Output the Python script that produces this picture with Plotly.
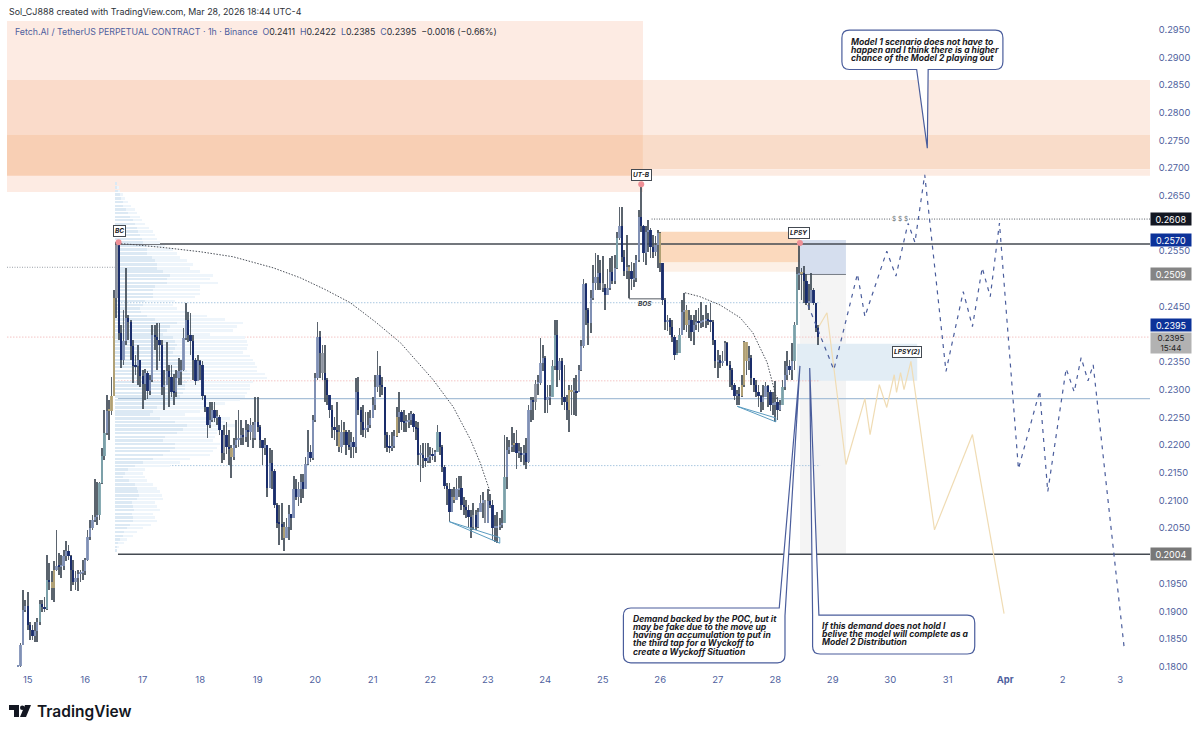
import numpy as np
import plotly.graph_objects as go

# Candles, 1h, prices x 10000. Open is the previous close.
first_open = 1800
closes = [1802,1840,1903,1910,1876,1867,1856,1865,1881,1914,1907,1905,1957,1953,1943,1975,1982,1981,1982,2000,
2009,1999,1975,1953,1961,1968,1970,1972,1993,2035,2051,2065,2071,2073,2132,2181,2222,2262,2262,2289,
2466,2562,2403,2354,2388,2430,2423,2379,2343,2342,2354,2325,2311,2331,2298,2318,2399,2396,2390,2381,
2305,2309,2333,2323,2296,2295,2322,2333,2336,2394,2426,2399,2388,2354,2315,2351,2345,2289,2268,2237,
2246,2264,2249,2251,2228,2186,2219,2197,2194,2179,2201,2210,2213,2219,2215,2228,2224,2237,2213,2242,
2233,2210,2195,2201,2123,2168,2154,2092,2060,2058,2053,2033,2053,2076,2069,2120,2107,2120,2134,2121,
2166,2188,2177,2246,2322,2396,2367,2331,2318,2291,2264,2233,2228,2224,2197,2224,2224,2201,2197,2206,
2197,2295,2264,2242,2228,2231,2237,2249,2273,2304,2327,2309,2305,2219,2197,2195,2199,2217,2251,2260,
2242,2240,2242,2246,2257,2233,2230,2183,2183,2177,2172,2179,2183,2181,2188,2224,2197,2161,2127,2120,
2080,2107,2101,2120,2123,2092,2089,2083,2071,2053,2074,2053,2080,2096,2101,2060,2100,2092,2051,2051,
2053,2056,2060,2143,2192,2197,2201,2204,2186,2186,2183,2186,2170,2264,2282,2277,2311,2313,2349,2358,
2282,2286,2287,2342,2399,2336,2351,2287,2277,2264,2300,2296,2296,2295,2336,2378,2490,2444,2421,2466,
2493,2504,2511,2493,2484,2471,2484,2513,2497,2520,2574,2596,2540,2515,2522,2515,2499,2502,2535,2612,
2596,2547,2585,2589,2558,2549,2562,2583,2529,2462,2423,2425,2414,2396,2363,2367,2399,2441,2444,2417,
2425,2405,2417,2423,2421,2423,2425,2426,2425,2423,2390,2351,2354,2349,2352,2385,2345,2336,2309,2289,
2293,2289,2309,2387,2351,2358,2322,2309,2296,2289,2277,2287,2307,2296,2273,2273,2278,2264,2273,2304,
2327,2342,2336,2351,2417,2508,2509,2511,2497,2457,2457,2480,2457,2412,2395]
highs = [1804,1843,1939,1921,1934,1881,1876,1881,1888,1921,1921,1925,2002,1988,1972,1990,2047,2006,2002,2011,
2027,2020,2002,1993,1972,1975,1975,1993,1997,2047,2065,2074,2138,2134,2134,2195,2264,2291,2282,2323,
2480,2567,2562,2417,2444,2520,2435,2426,2390,2363,2381,2340,2336,2338,2334,2327,2417,2417,2421,2421,
2390,2336,2387,2345,2345,2329,2336,2358,2354,2412,2457,2441,2439,2399,2358,2363,2354,2351,2291,2264,
2278,2277,2278,2264,2255,2228,2237,2242,2228,2201,2213,2246,2264,2246,2231,2246,2239,2249,2242,2286,
2286,2237,2206,2213,2201,2195,2192,2156,2096,2092,2096,2062,2069,2092,2074,2145,2138,2134,2147,2147,
2179,2228,2201,2255,2331,2423,2406,2381,2381,2322,2291,2273,2251,2277,2237,2246,2242,2228,2228,2224,
2215,2322,2323,2268,2273,2260,2260,2264,2286,2327,2369,2342,2323,2304,2224,2219,2224,2228,2268,2295,
2264,2264,2255,2258,2262,2258,2244,2242,2201,2204,2204,2204,2197,2195,2192,2237,2224,2201,2165,2132,
2132,2120,2125,2141,2145,2145,2107,2101,2092,2083,2096,2083,2087,2110,2116,2101,2120,2112,2101,2074,
2080,2069,2083,2219,2215,2210,2233,2221,2228,2204,2197,2201,2213,2273,2287,2286,2318,2327,2394,2381,
2360,2309,2309,2354,2426,2426,2358,2358,2345,2291,2309,2309,2322,2327,2345,2390,2499,2493,2448,2480,
2526,2547,2544,2535,2542,2490,2517,2538,2542,2544,2585,2629,2629,2553,2580,2526,2531,2529,2544,2625,
2670,2598,2596,2607,2592,2580,2578,2589,2585,2522,2466,2435,2430,2426,2399,2390,2412,2462,2475,2453,
2443,2435,2434,2444,2448,2459,2435,2453,2439,2457,2425,2390,2372,2363,2369,2388,2387,2351,2340,2313,
2300,2304,2327,2388,2381,2378,2363,2322,2318,2309,2291,2309,2314,2309,2300,2295,2316,2286,2282,2318,
2351,2369,2354,2385,2423,2522,2565,2520,2524,2508,2490,2511,2484,2457,2416]
lows = [1800,1800,1840,1899,1867,1849,1849,1845,1845,1876,1899,1899,1903,1939,1921,1917,1972,1966,1961,1975,
1990,1993,1937,1948,1939,1937,1953,1957,1966,1990,2029,2047,2062,2055,2065,2129,2174,2219,2210,2255,
2289,2430,2390,2340,2345,2381,2390,2354,2313,2327,2309,2304,2266,2282,2284,2291,2314,2372,2336,2351,
2291,2264,2318,2268,2286,2273,2286,2309,2309,2333,2390,2387,2363,2318,2309,2333,2318,2282,2260,2213,
2231,2242,2242,2237,2219,2168,2174,2184,2165,2141,2174,2195,2197,2201,2201,2206,2197,2210,2195,2210,
2224,2195,2165,2183,2107,2129,2120,2087,2051,2020,2029,2008,2033,2029,2047,2074,2101,2091,2096,2105,
2120,2165,2170,2174,2242,2318,2322,2318,2278,2273,2249,2213,2210,2199,2188,2186,2201,2183,2192,2177,
2177,2186,2255,2219,2215,2213,2224,2231,2251,2264,2296,2287,2291,2195,2188,2186,2190,2195,2215,2222,
2228,2224,2224,2231,2237,2224,2210,2165,2134,2159,2161,2168,2168,2174,2170,2188,2183,2152,2120,2092,
2062,2080,2096,2101,2107,2083,2074,2069,2053,2033,2047,2046,2051,2080,2069,2060,2060,2087,2029,2026,
2024,2047,2051,2060,2120,2184,2188,2188,2156,2177,2170,2165,2156,2168,2242,2246,2264,2291,2309,2333,
2258,2258,2273,2286,2336,2304,2318,2273,2264,2246,2224,2255,2255,2253,2295,2334,2376,2417,2381,2403,
2462,2480,2480,2480,2477,2443,2471,2480,2490,2490,2517,2571,2531,2506,2499,2466,2480,2486,2495,2531,
2585,2531,2526,2549,2538,2538,2542,2520,2513,2453,2408,2406,2399,2387,2354,2363,2369,2405,2408,2405,
2394,2388,2381,2408,2405,2412,2414,2412,2417,2405,2381,2340,2322,2340,2343,2351,2342,2304,2300,2282,
2273,2273,2286,2305,2327,2336,2309,2296,2286,2268,2260,2264,2286,2268,2262,2255,2242,2246,2262,2273,
2300,2318,2327,2318,2336,2417,2480,2462,2457,2453,2444,2459,2453,2405,2381]

# Candles that are not the usual blue grey / navy
tan_candles = [14, 15, 38, 39, 40, 89, 111, 134, 136, 158, 182, 207, 230, 231, 255, 268, 279, 302, 303, 304, 327]
teal_candles = [9, 12, 34, 35, 36, 175, 203, 223, 224, 250, 275, 276, 319, 324, 325]
grey_candles = [41, 86, 98, 127, 190, 195, 216, 244, 295]

# Volume profile, prices x 10000, two layers
vp_price = [2672,2665,2659,2652,2645,2639,2632,2625,2619,2612,2606,2599,2592,2586,2579,2572,2566,2559,2553,2546,
2539,2533,2526,2519,2513,2506,2500,2493,2486,2480,2473,2467,2460,2453,2447,2440,2433,2427,2420,2414,
2407,2400,2394,2387,2381,2374,2367,2361,2354,2347,2341,2334,2328,2321,2314,2308,2301,2294,2288,2281,
2275,2268,2261,2255,2248,2242,2235,2228,2222,2215,2208,2202,2195,2189,2182,2175,2169,2162,2156,2149,
2142,2136,2129,2122,2116,2109,2103,2096,2089,2083,2076,2069,2063,2056,2050,2043,2036,2030,2023,2016,2010]
vp_inner = [1,2,3,5,6,8,8,11,13,15,18,20,22,23,25,27,28,30,32,32,37,40,42,42,48,55,52,52,40,38,38,38,30,28,25,26,
32,40,62,55,52,48,58,60,62,60,58,65,68,70,70,72,75,75,72,70,70,68,65,60,55,42,38,35,45,60,72,68,62,50,48,60,60,
55,48,38,28,20,13,10,8,14,20,22,23,24,22,17,18,19,17,18,18,15,12,9,8,5,3,2,1]
vp_outer = [2,4,5,8,10,13,16,20,22,25,27,30,34,38,40,42,45,50,58,62,65,72,78,75,85,98,95,103,85,85,85,80,60,58,62,75,
92,110,128,122,118,95,130,132,133,132,128,135,138,140,142,142,150,152,138,135,135,132,130,125,110,100,85,70,115,
110,120,110,102,100,98,105,102,98,95,75,65,55,30,28,30,32,38,42,45,47,48,40,42,45,38,40,42,36,28,22,18,12,9,4,2]

# Projected paths: day of month (Apr 1 = 32), price x 10000
model1_day = [28.57,29.02,29.43,29.56,29.94,30.10,30.31,30.43,30.60,30.97,31.27,31.43,31.60,31.74,31.90,32.23,32.60,32.74,33.06,33.20,33.32,33.44,33.53,34.07]
model1_price = [2453,2336,2509,2432,2550,2505,2601,2566,2688,2333,2477,2414,2520,2468,2601,2157,2298,2116,2338,2296,2358,2316,2345,1833]
model2_day = [28.76,28.90,29.23,29.56,29.65,29.81,29.94,30.07,30.11,30.18,30.24,30.36,30.77,31.43,31.98]
model2_price = [2414,2439,2165,2284,2219,2309,2268,2327,2295,2331,2300,2351,2047,2219,1896]

# Dotted arcs
arc1_day = [16.57,16.83,17.42,18.00,18.57,19.27,19.74,20.17,20.61,21.04,21.48,22.05,22.40,22.70,22.87,23.04]
arc1_price = [2564,2562,2556,2549,2540,2520,2502,2481,2457,2423,2385,2318,2269,2210,2168,2116]
arc2_day = [26.43,26.69,27.04,27.39,27.61,27.86,28.03]
arc2_price = [2475,2468,2453,2430,2403,2349,2282]

# Thin wedges under the lows
wedge1_day = [22.33,23.21,23.21,22.33]
wedge1_price = [2062,2023,2033,2062]
wedge2_day = [27.34,28.01,28.01,27.34]
wedge2_price = [2270,2242,2249,2270]

pivot_day = [16.58,25.67,28.43]
pivot_price = [2566,2671,2565]

day_ticks = list(range(15, 35))
day_labels = ['15','16','17','18','19','20','21','22','23','24','25','26','27','28','29','30','31','<b>Apr</b>','2','3']
price_ticks = [0.18,0.185,0.19,0.195,0.205,0.21,0.215,0.22,0.225,0.23,0.235,0.245,0.255,0.265,0.27,0.275,0.28,0.285,0.29,0.295]

X_MIN, X_MAX = 14.64, 34.518
Y_MIN, Y_MAX = 0.17977, 0.29655
AXIS_BLUE = '#4f5f9e'
FONT = 'Inter'

close = np.array(closes) / 1e4
opens = np.concatenate([[first_open / 1e4], close[:-1]])
high = np.maximum(np.array(highs) / 1e4, np.maximum(opens, close))
low = np.minimum(np.array(lows) / 1e4, np.minimum(opens, close))
days = 14 + 20 / 24 + np.arange(len(close)) / 24

colors = ['#8494ba' if c >= o else '#15296b' for o, c in zip(opens, close)]
for i in tan_candles:
    colors[i] = '#b8a676'
for i in teal_candles:
    colors[i] = '#7fa6ae'
for i in grey_candles:
    colors[i] = '#9298a4'

fig = go.Figure()

# Volume profile
vp_y = np.array(vp_price) / 1e4
fig.add_trace(go.Bar(y=vp_y, x=np.array(vp_outer) / 57.5, base=16.52, orientation='h', width=0.00045,
                     marker=dict(color='#eef5fb', line_width=0), hoverinfo='skip'))
fig.add_trace(go.Bar(y=vp_y, x=np.array(vp_inner) / 57.5, base=16.52, orientation='h', width=0.00045,
                     marker=dict(color='#dce9f4', line_width=0), hoverinfo='skip'))

# Candles
fig.add_trace(go.Bar(x=days, y=high - low, base=low, width=0.013,
                     marker=dict(color='#3f4a55', line_width=0), opacity=0.85, name='wick'))
fig.add_trace(go.Bar(x=days, y=np.maximum(np.abs(close - opens), 0.0002), base=np.minimum(opens, close), width=0.04,
                     marker=dict(color=colors, line_width=0), opacity=0.92, name='body'))


def add_path(xs, ys, color, width=1, dash='solid'):
    fig.add_trace(go.Scatter(x=xs, y=np.array(ys) / 1e4, mode='lines', hoverinfo='skip',
                             line=dict(color=color, width=width, dash=dash)))


add_path(arc1_day, arc1_price, '#4a4f58', 1, '1.5px,1.5px')
add_path(arc2_day, arc2_price, '#4a4f58', 1, '1.5px,1.5px')
add_path(wedge1_day, wedge1_price, '#5b9cc0', 1)
add_path(wedge2_day, wedge2_price, '#5b9cc0', 1)
add_path(model2_day, model2_price, '#f0dcb4', 1.2)
add_path(model1_day, model1_price, '#4a5d9c', 1.2, '4px,5px')
add_path([25.46, 25.46, 26.03], [2504, 2464, 2464], '#555b63', 1)

fig.add_trace(go.Scatter(x=pivot_day, y=np.array(pivot_price) / 1e4, mode='markers', hoverinfo='skip',
                         marker=dict(color='#ef8f96', size=6)))

# Zones: left edge, right edge, price from, price to, colour
zones = [
    (X_MIN, 25.70, 0.2657, Y_MAX, '#fdebe3'),
    (X_MIN, 25.70, 0.2760, 0.2859, '#fadbca'),
    (X_MIN, 25.70, 0.2686, 0.2760, '#f8cfb4'),
    (25.70, X_MAX, 0.2760, 0.2859, '#fcebe2'),
    (25.70, X_MAX, 0.2698, 0.2760, '#f9dcc9'),
    (25.70, X_MAX, 0.2686, 0.2698, '#fcebe2'),
    (25.98, 28.43, 0.2513, 0.2530, '#fdf0e6'),
    (25.98, 28.43, 0.2530, 0.2585, '#fbd9bd'),
    (28.43, 29.23, 0.2004, 0.2508, '#f4f4f4'),
    (28.43, 29.23, 0.2508, 0.2570, '#d5deee'),
    (28.38, 30.47, 0.2316, 0.2383, '#e2edf5'),
]
for x0, x1, y0, y1, color in zones:
    fig.add_shape(type='rect', x0=x0, x1=x1, y0=y0, y1=y1, fillcolor=color, line_width=0, layer='below')

# Horizontal levels: left edge, right edge, price, colour, width, dash
levels = [
    (16.57, X_MAX, 0.2563, '#444a52', 1.3, 'solid'),
    (16.57, X_MAX, 0.2003, '#444a52', 1.3, 'solid'),
    (25.85, X_MAX, 0.2608, '#555b63', 1, '1px,1.5px'),
    (X_MIN, 16.52, 0.2521, '#9aa0a8', 1, '1px,1.5px'),
    (28.43, 29.23, 0.2508, '#777d86', 1, 'solid'),
    (16.57, 28.78, 0.2457, '#a9c7e0', 1, '1.5px,1.5px'),
    (X_MIN, X_MAX, 0.2395, '#f3c4c4', 1, '1.5px,1.5px'),
    (16.57, 28.78, 0.2316, '#f3c4c4', 1, '1.5px,1.5px'),
    (16.57, X_MAX, 0.2284, '#a8c0d8', 1.2, 'solid'),
    (16.57, 28.78, 0.2163, '#a9c7e0', 1, '1.5px,1.5px'),
]
for x0, x1, y, color, width, dash in levels:
    fig.add_shape(type='line', x0=x0, x1=x1, y0=y, y1=y, line=dict(color=color, width=width, dash=dash), layer='below')


# Speech bubble with rounded corners, pointer leaves from the given side
def bubble(x0, x1, y0, y1, side, base0, base1, tip_x, tip_y):
    rx, ry = 0.13, 0.0014
    path = f'M {x0 + rx} {y1} '
    if side == 'top':
        path += f'L {base0} {y1} L {tip_x} {tip_y} L {x1} {y1 - ry} '
    else:
        path += f'L {x1 - rx} {y1} Q {x1} {y1} {x1} {y1 - ry} '
    path += f'L {x1} {y0 + ry} Q {x1} {y0} {x1 - rx} {y0} '
    if side == 'bottom':
        path += f'L {base1} {y0} L {tip_x} {tip_y} L {base0} {y0} '
    path += f'L {x0 + rx} {y0} Q {x0} {y0} {x0} {y0 + ry} '
    if side == 'left':
        path += f'L {x0} {y1} L {tip_x} {tip_y} L {base1} {y1} Z'
    else:
        path += f'L {x0} {y1 - ry} Q {x0} {y1} {x0 + rx} {y1} Z'
    fig.add_shape(type='path', path=path, fillcolor='white', line=dict(color='#4a5d9c', width=1.2), layer='above')


bubble(29.16, 31.96, 0.2878, 0.2949, 'bottom', 30.46, 30.66, 30.645, 0.2736)
bubble(25.36, 28.17, 0.1807, 0.1906, 'top', 28.07, 28.17, 28.43, 0.2343)
bubble(28.65, 31.47, 0.1823, 0.1893, 'left', 28.65, 28.76, 28.60, 0.2339)

# Text inside bubbles: left edge, price, line
bubble_lines = [
    (29.28, 0.2928, 'Model 1 scenario does not have to'),
    (29.28, 0.2913, 'happen and I think there is a higher'),
    (29.28, 0.2899, 'chance of the Model 2 playing out'),
    (25.49, 0.1886, 'Demand backed by the POC, but it'),
    (25.49, 0.1872, 'may be fake due to the move up'),
    (25.49, 0.1857, 'having an accumulation to put in'),
    (25.49, 0.1843, 'the third tap for a Wyckoff to'),
    (25.49, 0.1827, 'create a Wyckoff Situation'),
    (28.78, 0.1873, 'If this demand does not hold I'),
    (28.78, 0.1859, 'belive the model will complete as a'),
    (28.78, 0.1844, 'Model 2 Distribution'),
]
for x, y, line in bubble_lines:
    fig.add_annotation(x=x, y=y, text=f'<b><i>{line}</i></b>', showarrow=False, xanchor='left', yanchor='middle',
                       font=dict(family=FONT, size=8.6, color='#1a1a24'))

# Boxed tags on the chart
tags = [(25.67, 0.2688, 'UT-B'), (16.59, 0.2587, 'BC'), (28.42, 0.2583, 'LPSY'), (30.29, 0.2368, 'LPSY(2)')]
for x, y, label in tags:
    fig.add_annotation(x=x, y=y, text=f'<b><i>{label}</i></b>', showarrow=False, bgcolor='white',
                       bordercolor='#444a52', borderwidth=1, borderpad=1,
                       font=dict(family=FONT, size=6.5, color='#1a1a24'))
fig.add_annotation(x=25.74, y=0.2455, text='<b><i>BOS</i></b>', showarrow=False,
                   font=dict(family=FONT, size=6.5, color='#3a3f48'))
fig.add_annotation(x=30.17, y=0.2608, text='$ $ $', showarrow=False, bgcolor='white', borderpad=0,
                   font=dict(family=FONT, size=6.5, color='#666b74'))

# Price tags over the right axis
price_tags = [
    (0.2608, '0.2608', '#131722', '#ffffff'),
    (0.2571, '0.2570', '#0c3299', '#ffffff'),
    (0.2509, '0.2509', '#858585', '#ffffff'),
    (0.2417, '0.2395', '#0c3299', '#ffffff'),
    (0.2004, '0.2004', '#787878', '#ffffff'),
]
for y, label, bg, fg in price_tags:
    fig.add_annotation(x=1.0, xref='paper', y=y, text=label, showarrow=False, xanchor='left', xshift=-0.5,
                       bgcolor=bg, width=40, height=12, borderpad=0, align='center', yanchor='middle',
                       font=dict(family=FONT, size=9, color=fg))
fig.add_annotation(x=1.0, xref='paper', y=0.2384, text='0.2395<br>15:44', showarrow=False, xanchor='left',
                   xshift=-0.5, bgcolor='#b2b2b2', width=40, height=20, borderpad=0, align='center', yanchor='middle',
                   font=dict(family=FONT, size=8, color='#222222'))


# Header and logo are placed by window pixel
def paper_x(px):
    return (px - 7) / 1143


def paper_y(py):
    return 1 - (py - 21) / 647


fig.add_annotation(x=paper_x(7), xref='paper', y=paper_y(11), yref='paper', xanchor='left', yanchor='middle',
                   showarrow=False, text='Sol_CJ888 created with TradingView.com, Mar 28, 2026 18:44 UTC-4',
                   font=dict(family=FONT, size=8.9, color='#2b2f36'))
header = (f'<span style="color:{AXIS_BLUE}">Fetch.AI / TetherUS PERPETUAL CONTRACT · 1h · Binance  '
          'O</span><span style="color:#2b2f36">0.2411</span>'
          f'<span style="color:{AXIS_BLUE}">  H</span><span style="color:#2b2f36">0.2422</span>'
          f'<span style="color:{AXIS_BLUE}">  L</span><span style="color:#2b2f36">0.2385</span>'
          f'<span style="color:{AXIS_BLUE}">  C</span><span style="color:#2b2f36">0.2395  −0.0016 (−0.66%)</span>')
fig.add_annotation(x=paper_x(13), xref='paper', y=paper_y(31), yref='paper', xanchor='left', yanchor='middle',
                   showarrow=False, text=header, font=dict(family=FONT, size=8.8, color=AXIS_BLUE))
fig.add_annotation(x=paper_x(35), xref='paper', y=paper_y(711), yref='paper', xanchor='left', yanchor='middle',
                   showarrow=False, text='TradingView', font=dict(family=FONT, size=15.5, weight=600, color='#131722'))

logo = [
    f'M {paper_x(9)} {paper_y(705)} L {paper_x(19)} {paper_y(705)} L {paper_x(19)} {paper_y(717)} '
    f'L {paper_x(14)} {paper_y(717)} L {paper_x(14)} {paper_y(710)} L {paper_x(9)} {paper_y(710)} Z',
    f'M {paper_x(25)} {paper_y(705)} L {paper_x(31)} {paper_y(705)} L {paper_x(26)} {paper_y(717)} '
    f'L {paper_x(20)} {paper_y(717)} Z',
]
for path in logo:
    fig.add_shape(type='path', path=path, xref='paper', yref='paper', fillcolor='#131722', line_width=0)
fig.add_shape(type='circle', xref='paper', yref='paper', x0=paper_x(20), x1=paper_x(24.5),
              y0=paper_y(710), y1=paper_y(705.5), fillcolor='#131722', line_width=0)

fig.update_layout(
    width=1200, height=733, autosize=False,
    margin=dict(l=7, r=50, t=21, b=65),
    barmode='overlay', bargap=0, showlegend=False,
    paper_bgcolor='white', plot_bgcolor='white',
    font=dict(family=FONT, color=AXIS_BLUE, size=9),
    xaxis=dict(range=[X_MIN, X_MAX], tickmode='array', tickvals=day_ticks, ticktext=day_labels,
               showgrid=False, zeroline=False, showline=False, ticks='outside', ticklen=3, tickcolor='rgba(0,0,0,0)',
               tickfont=dict(size=9.5, color=AXIS_BLUE)),
    yaxis=dict(range=[Y_MIN, Y_MAX], side='right', tickmode='array', tickvals=price_ticks, tickformat='.4f',
               showgrid=False, zeroline=False, showline=False, ticks='outside', ticklen=6, tickcolor='rgba(0,0,0,0)',
               tickfont=dict(size=9.3, color=AXIS_BLUE)),
)

fig.write_html("out.html", config={'displayModeBar': False}, post_script="document.body.style.margin='0';")
